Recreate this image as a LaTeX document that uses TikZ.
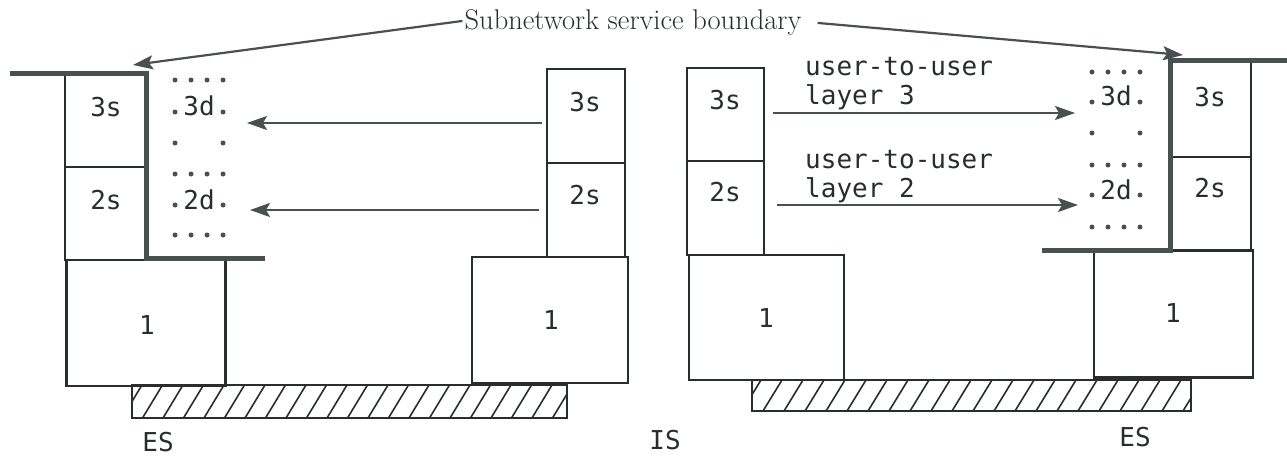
\documentclass[tikz,border=0pt]{standalone}
\usepackage{fontspec}
\newfontfamily\labelfont{DejaVu Sans Mono}
\usetikzlibrary{arrows.meta}
\definecolor{ink}{RGB}{40,45,45}
\definecolor{rule}{RGB}{72,80,80}

\begin{document}
\begin{tikzpicture}[x=1pt,y=-1pt,
  box/.style={draw=ink, line width=2.2pt, inner sep=0pt},
  lbl/.style={font=\labelfont\fontsize{26}{29}\selectfont, text=ink, inner sep=0pt},
  bound/.style={draw=rule, line width=5pt, line join=miter},
  arr/.style={draw=rule, line width=2.2pt, -{Stealth[length=20pt,width=14pt,inset=4pt]}},
  hatchline/.style={draw=ink, line width=1.6pt},
]
\useasboundingbox (0,0) rectangle (1287,460);

% ---------- left end system ----------
\node[box, minimum width=81pt, minimum height=94pt]  (les3) at (105.5,120) {};
\node[box, minimum width=81pt, minimum height=93pt]  (les2) at (105.5,213.5) {};
\node[box, minimum width=159pt, minimum height=126pt] (les1) at (146,323) {};
\node[lbl] (les3t) at (106,107) {3s};
\node[lbl] (les2t) at (106,200) {2s};
\node[lbl] (les1t) at (147,325) {1};

% ---------- intermediate system, left half ----------
\node[box, minimum width=78pt, minimum height=94pt]  (is3) at (586,116) {};
\node[box, minimum width=78pt, minimum height=94pt]  (is2) at (586,210) {};
\node[box, minimum width=156pt, minimum height=126pt] (is1) at (550,320) {};
\node[lbl] (is3t) at (585,102) {3s};
\node[lbl] (is2t) at (585,195) {2s};
\node[lbl] (is1t) at (551,320) {1};

% ---------- intermediate system, right half ----------
\node[box, minimum width=77pt, minimum height=93pt]  (ir3) at (725.5,114.5) {};
\node[box, minimum width=77pt, minimum height=94pt]  (ir2) at (725.5,208) {};
\node[box, minimum width=155pt, minimum height=125pt] (ir1) at (766.5,317.5) {};
\node[lbl] (ir3t) at (725,100) {3s};
\node[lbl] (ir2t) at (725,192) {2s};
\node[lbl] (ir1t) at (766,318) {1};

% ---------- right end system ----------
\node[box, minimum width=81pt, minimum height=96pt]  (res3) at (1210.5,109) {};
\node[box, minimum width=81pt, minimum height=93pt]  (res2) at (1210.5,203.5) {};
\node[box, minimum width=159pt, minimum height=127pt] (res1) at (1173.5,314) {};
\node[lbl] (res3t) at (1210,97) {3s};
\node[lbl] (res2t) at (1210,188) {2s};
\node[lbl] (res1t) at (1173,313) {1};

% ---------- hatched subnetwork bars ----------
\begin{scope}
  \clip (132,385) rectangle (567,418);
  \foreach \k in {0,...,22} \draw[hatchline] ({122+\k*20.5},418) -- ++(20,-33);
\end{scope}
\draw[hatchline, line width=2.2pt] (132,385) rectangle (567,418);
\begin{scope}
  \clip (752,380) rectangle (1191,411);
  \foreach \k in {0,...,22} \draw[hatchline] ({742+\k*21},411) -- ++(19,-31);
\end{scope}
\draw[hatchline, line width=2.2pt] (752,380) rectangle (1191,411);

% ---------- system labels ----------
\node[lbl] (esl) at (158,442) {ES};
\node[lbl] (isl) at (665,440) {IS};
\node[lbl] (esr) at (1135,437) {ES};

% ---------- subnetwork service boundaries ----------
\draw[bound] (10,73) -- (146,73) -- (146,258) -- (265,258);
\draw[bound] (1287,61) -- (1170,61) -- (1170,250) -- (1042,250);

% ---------- dotted peer entities ----------
\foreach \x in {175,191,207,223} {
  \fill[rule] (\x,80) circle (2.5pt);
  \fill[rule] (\x,174) circle (2.5pt);
  \fill[rule] (\x,235) circle (2.5pt);
}
\foreach \x in {175,223} {
  \fill[rule] (\x,112) circle (2.5pt);
  \fill[rule] (\x,143) circle (2.5pt);
  \fill[rule] (\x,205) circle (2.5pt);
}
\node[lbl] (l3d) at (199,106) {3d};
\node[lbl] (l2d) at (199,200) {2d};

\foreach \x in {1092,1108,1124,1140} {
  \fill[rule] (\x,72) circle (2.5pt);
  \fill[rule] (\x,165) circle (2.5pt);
  \fill[rule] (\x,227) circle (2.5pt);
}
\foreach \x in {1092,1140} {
  \fill[rule] (\x,102) circle (2.5pt);
  \fill[rule] (\x,133) circle (2.5pt);
  \fill[rule] (\x,195) circle (2.5pt);
}
\node[lbl] (r3d) at (1116,96) {3d};
\node[lbl] (r2d) at (1116,190) {2d};

% ---------- layer arrows ----------
\coordinate (la3) at (247,123);
\coordinate (la2) at (250,210);
\coordinate (ra3) at (1075,113);
\coordinate (ra2) at (1078,205);
\draw[arr] ([xshift=-4pt,yshift=-7pt]is3.west) -- (la3);
\draw[arr] ([xshift=-7pt]is2.west) -- (la2);
\draw[arr] ([xshift=8pt,yshift=1.5pt]ir3.east) -- (ra3);
\draw[arr] ([xshift=12pt,yshift=3pt]ir2.east) -- (ra2);

% the base anchor of a two-line node sits on its last line
\node[lbl, align=left, anchor=base west] (u3) at (805,104) {user-to-user\\layer 3};
\node[lbl, align=left, anchor=base west] (u2) at (805,197) {user-to-user\\layer 2};

% ---------- title with pointers ----------
\node[font=\fontsize{28.5}{28.5}\selectfont, text=ink, inner sep=0pt, anchor=base] (title) at (633,30) {Subnetwork service boundary};
\coordinate (ltip) at (133,65);
\coordinate (rtip) at (1183,55);
\draw[arr] ([xshift=-2pt,yshift=2pt]title.west) -- (ltip);
\draw[arr] ([xshift=16pt]title.east) -- (rtip);
\end{tikzpicture}
\end{document}
